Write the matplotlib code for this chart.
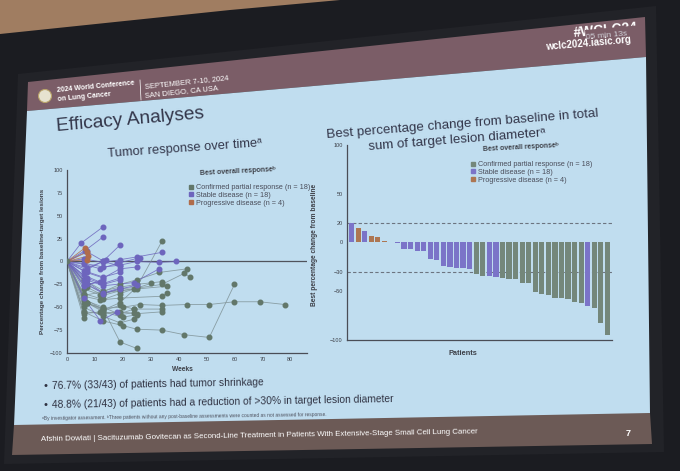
import matplotlib
matplotlib.use("Agg")
import matplotlib.pyplot as plt
from matplotlib.patches import Polygon, Circle
from matplotlib.lines import Line2D
from matplotlib import font_manager

_names = {f.name for f in font_manager.fontManager.ttflist}
SANS = "Liberation Sans" if "Liberation Sans" in _names else "DejaVu Sans"
NARROW = "Liberation Sans Narrow" if "Liberation Sans Narrow" in _names else SANS
plt.rcParams["font.family"] = [SANS, "DejaVu Sans"]

# ---------------- data ----------------
resp_labels = ["Confirmed partial response (n = 18)", "Stable disease (n = 18)",
               "Progressive disease (n = 4)"]
resp_keys = ["PR", "SD", "PD"]
resp_colors = {"PR": "#62776a", "SD": "#6d65bd", "PD": "#b06c4b"}
bar_colors = {"PR": "#74877b", "SD": "#7b74c8", "PD": "#ad7652"}

# waterfall: best % change per patient (sorted)
wf_values = [20, 15, 12, 7, 5.6, 1.6, 0.5, -1, -6.3, -6.7, -8.3, -8.7, -17, -18,
             -24, -25, -26, -26.5, -27, -32, -34, -34.5, -35, -36.5, -37, -37,
             -41.5, -42, -51, -53, -53.5, -57, -57, -58, -61, -62, -65, -67, -83, -95]
wf_response = ["SD", "PD", "SD", "PD", "PD", "PD", "SD",
               "SD", "SD", "SD", "SD", "SD", "SD", "SD", "SD", "SD", "SD", "SD", "SD",
               "PR", "PR", "SD", "SD",
               "PR", "PR", "PR", "PR", "PR", "PR", "PR", "PR", "PR", "PR", "PR", "PR", "PR",
               "SD", "PR", "PR", "PR"]
wf_yticks = [100, 50, 20, 0, -30, -50, -100]

# spider: weeks and % change per patient
sp_weeks = [
    [0, 6.5], [0, 7], [0, 7.5], [0, 7],
    [0, 5, 13], [0, 6.5, 13], [0, 7, 13, 19], [0, 6, 13, 19, 25, 34],
    [0, 6, 13, 19, 25, 33, 39], [0, 7, 13, 19], [0, 6, 12, 18, 26], [0, 7, 14],
    [0, 6, 13, 19], [0, 7, 13, 19, 25], [0, 6, 13, 19], [0, 7, 13, 19],
    [0, 6, 12], [0, 7, 13, 24, 33], [0, 6, 13], [0, 6, 13, 19],
    [0, 7, 13, 19, 25], [0, 6, 12, 18],
    [0, 6, 13, 19, 25, 34], [0, 7, 13, 25, 36], [0, 6, 12, 19, 25],
    [0, 6, 13, 19, 25, 33, 43], [0, 7, 13, 19, 34, 42, 44], [0, 6, 13, 19, 24, 30],
    [0, 6, 12, 19, 34, 36], [0, 6, 13, 20, 26, 34, 43, 51, 60, 69, 78],
    [0, 6, 13, 19, 25, 34], [0, 7, 13, 19, 24, 34], [0, 6, 13, 19, 25, 34],
    [0, 6, 12, 19, 24], [0, 6, 13, 19, 24], [0, 7, 13, 20, 25], [0, 6],
    [0, 6, 13, 19, 24], [0, 6, 13, 20, 25, 34, 42, 51, 60], [0, 7, 13, 19, 25],
]
sp_values = [
    [0, 15], [0, 10], [0, 6], [0, 2],
    [0, 20, 38], [0, 12, 27], [0, 11, 0.5, 18], [0, 3, -1, 2, 5, 10],
    [0, -2, -6, -4, 0, -1, 0], [0, -7, 0, -5], [0, -3, -8, -2, 4], [0, -9, 2],
    [0, -10, -17, -12], [0, -12, -18, -8, -6], [0, -15, -24, -18], [0, -18, -25, -20],
    [0, -26, -22], [0, -20, -26.5, -23, -8], [0, -27, -20], [0, -20, -34.5, -29],
    [0, -25, -35, -30, -26], [0, -40, -65, -55],
    [0, -20, -32, -28, -25, -22], [0, -25, -34, -30, -27], [0, -30, -36.5, -30, -28],
    [0, -37, -33, -25, -20, -12, -8], [0, -28, -37, -32, -25, -13, -17],
    [0, -35, -41.5, -35, -30, -24],
    [0, -38, -42, -40, -38, -34], [0, -45, -51, -50, -47, -48, -47, -47, -44, -44, -47],
    [0, -40, -53, -45, -28, 22], [0, -45, -53.5, -48, -52, -52], [0, -55, -57, -55, -57, -55],
    [0, -57, -55, -57, -52], [0, -42, -50, -58, -56], [0, -45, -55, -61, -58], [0, -62],
    [0, -50, -60, -67, -63], [0, -55, -65, -70, -74, -75, -80, -83, -25],
    [0, -45, -52, -88, -95],
]
sp_response = ["PD"] * 4 + ["SD"] * 18 + ["PR"] * 18
sp_xticks = [0, 10, 20, 30, 40, 50, 60, 70, 80]
sp_yticks = [100, 75, 50, 25, 0, -25, -50, -75, -100]

# ---------------- figure / photo background ----------------
W, H = 680, 471
fig = plt.figure(figsize=(6.8, 4.71), dpi=100)
fig.patch.set_facecolor("#1b1c21")
bg = fig.add_axes([0, 0, 1, 1], zorder=0)
bg.set_xlim(0, W)
bg.set_ylim(H, 0)
bg.axis("off")

HEADER = "#7b5d67"


def poly(pts, color, **kw):
    p = Polygon(pts, closed=True, facecolor=color, edgecolor="none", **kw)
    bg.add_patch(p)
    return p


poly([(0, 0), (340, 0), (230, 10), (0, 34)], "#a07d61")
poly([(18, 74), (656, 6), (664, 452), (4, 464)], "#222328")
header = poly([(28, 82), (645, 17), (646, 57), (27, 111)], HEADER)
poly([(27, 111), (646, 57), (650, 414), (14, 426)], "#c0ddef")
poly([(14, 425), (650, 413), (652, 444), (12, 455)], "#6c5a56")

# header
bg.add_patch(Circle((45, 96), 6.5, facecolor="#e6e2cf", edgecolor="#b9a46a", lw=0.8))
bg.text(57, 92, "2024 World Conference", color="white", fontsize=5, fontweight="bold",
        rotation=5.5, rotation_mode="anchor", ha="left", va="baseline")
bg.text(58, 101, "on Lung Cancer", color="white", fontsize=5, fontweight="bold",
        rotation=5.5, rotation_mode="anchor", ha="left", va="baseline")
bg.plot([140, 141], [80, 100], color="white", lw=0.5)
bg.text(145, 88, "SEPTEMBER 7-10, 2024", color="white", fontsize=5.4,
        rotation=6, rotation_mode="anchor", ha="left", va="baseline")
bg.text(145, 97, "SAN DIEGO, CA USA", color="white", fontsize=5.4,
        rotation=6, rotation_mode="anchor", ha="left", va="baseline")
t = bg.text(574, 37, "#WCLC24", color="white", fontsize=10, fontweight="bold",
            rotation=5, rotation_mode="anchor", ha="left", va="baseline", zorder=3)
t.set_clip_path(header)
poly([(585, 30), (642, 25), (643, 37), (586, 42)], HEADER, zorder=3.5)
bg.text(586, 39, "05 min 13s", color="#cfcfd6", fontsize=6, zorder=4,
        rotation=5, rotation_mode="anchor", ha="left", va="baseline")
bg.text(546, 50, "wclc2024.iasic.org", color="white", fontsize=7, fontweight="bold",
        rotation=5, rotation_mode="anchor", ha="left", va="baseline", zorder=4)

# slide titles
TXT = "#33364a"
bg.text(57, 131, "Efficacy Analyses", color=TXT, fontsize=13.8,
        rotation=5, rotation_mode="anchor", ha="left", va="baseline")
bg.text(108, 157, "Tumor response over timeᵃ", color=TXT, fontsize=9.3,
        rotation=4, rotation_mode="anchor", ha="left", va="baseline")
bg.text(327, 138, "Best percentage change from baseline in total", color=TXT, fontsize=9.6,
        rotation=4.5, rotation_mode="anchor", ha="left", va="baseline")
bg.text(369, 150, "sum of target lesion diameterᵃ", color=TXT, fontsize=9.6,
        rotation=4.5, rotation_mode="anchor", ha="left", va="baseline")

# bullets + footnote
BUL = "#2f3242"
BFS = 8.5 if NARROW != SANS else 7.4
bg.text(44, 389, "•", color=BUL, fontsize=8, ha="left", va="baseline")
bg.text(52, 389, "76.7% (33/43) of patients had tumor shrinkage", color=BUL,
        family=[NARROW, "DejaVu Sans"], fontsize=BFS,
        rotation=1, rotation_mode="anchor", ha="left", va="baseline")
bg.text(44, 408, "•", color=BUL, fontsize=8, ha="left", va="baseline")
bg.text(52, 408, "48.8% (21/43) of patients had a reduction of >30% in target lesion diameter",
        color=BUL, family=[NARROW, "DejaVu Sans"], fontsize=BFS,
        rotation=1, rotation_mode="anchor", ha="left", va="baseline")
bg.text(42, 420, "ᵃBy investigator assessment. ᵇThree patients without any post-baseline "
        "assessments were counted as not assessed for response.", color="#4c4f5c",
        family=[NARROW, "DejaVu Sans"], fontsize=3.8 if NARROW != SANS else 3.5,
        rotation=0.8, rotation_mode="anchor", ha="left", va="baseline")

# footer
bg.text(41, 441, "Afshin Dowlati | Sacituzumab Govitecan as Second-Line Treatment in Patients "
        "With Extensive-Stage Small Cell Lung Cancer", color="white",
        family=[NARROW, "DejaVu Sans"], fontsize=6.6 if NARROW != SANS else 5.7,
        rotation=1, rotation_mode="anchor", ha="left", va="baseline")
bg.text(626, 436, "7", color="white", fontsize=6.5, fontweight="bold",
        ha="left", va="baseline")

AX = "#4a4d56"
LAB = "#3d4048"

# ---------------- spider plot ----------------
ax1 = fig.add_axes([67 / W, 1 - 353 / H, 240 / W, 183 / H], zorder=2)
ax1.set_facecolor("none")
ax1.axhline(0, color="#50535c", lw=0.9, zorder=1)
order = [i for i, r in enumerate(sp_response) if r == "PR"] + \
        [i for i, r in enumerate(sp_response) if r == "SD"] + \
        [i for i, r in enumerate(sp_response) if r == "PD"]
for i in order:
    c = resp_colors[sp_response[i]]
    ax1.plot(sp_weeks[i], sp_values[i], color="#7f9296" if sp_response[i] == "PR" else c,
             lw=0.6, alpha=0.85, zorder=2)
    ax1.plot(sp_weeks[i][1:], sp_values[i][1:], "o", color=c, ms=3.3, mec=c, zorder=3)
ax1.plot([0], [0], "o", color=resp_colors["PR"], ms=3.3, zorder=3)
ax1.set_xlim(0, 86)
ax1.set_ylim(-100, 100)
ax1.set_xticks(sp_xticks)
ax1.set_yticks(sp_yticks)
for s in ["top", "right"]:
    ax1.spines[s].set_visible(False)
for s in ["left", "bottom"]:
    ax1.spines[s].set_color(AX)
    ax1.spines[s].set_linewidth(0.9)
ax1.tick_params(length=0, labelsize=4, labelcolor=LAB, pad=3)
ax1.set_xlabel("Weeks", fontsize=4.8, fontweight="bold", color=LAB)
ax1.xaxis.set_label_coords(0.479, -0.072)
ax1.set_ylabel("Percentage change from baseline-target lesions", fontsize=4.6,
               fontweight="bold", color=LAB)
ax1.yaxis.set_label_coords(-0.092, 0.5)
bg.text(200, 175, "Best overall responseᵇ", color=LAB, fontsize=5, fontweight="bold",
        rotation=3, rotation_mode="anchor", ha="left", va="baseline")
h1 = [Line2D([], [], marker="s", ls="none", color=resp_colors[k], ms=3.2) for k in resp_keys]
lg1 = ax1.legend(h1, resp_labels, loc="upper left",
                 bbox_to_anchor=((189 - 67) / 240, (353 - 184) / 183), frameon=False,
                 fontsize=5.2, handlelength=0.5, handletextpad=0.5,
                 labelspacing=0.12, borderaxespad=0, borderpad=0)
for tx in lg1.get_texts():
    tx.set_color("#4a4d5a")

# ---------------- waterfall ----------------
ax2 = fig.add_axes([347 / W, 1 - 340 / H, 265 / W, 195 / H], zorder=2)
ax2.set_facecolor("none")
xs = list(range(len(wf_values)))
ax2.bar(xs, wf_values, width=0.8, color=[bar_colors[r] for r in wf_response],
        edgecolor="none", zorder=2)
ax2.axhline(20, color="#6c7480", lw=0.8, ls=(0, (3, 2)), zorder=1)
ax2.axhline(-30, color="#6c7480", lw=0.8, ls=(0, (3, 2)), zorder=1)
ax2.set_xlim(-0.7, len(wf_values) - 0.3)
ax2.set_ylim(-100, 100)
ax2.set_xticks([])
ax2.set_yticks(wf_yticks)
for s in ["top", "right"]:
    ax2.spines[s].set_visible(False)
for s in ["left", "bottom"]:
    ax2.spines[s].set_color(AX)
    ax2.spines[s].set_linewidth(0.9)
ax2.tick_params(length=0, labelsize=4, labelcolor=LAB, pad=3)
ax2.set_xlabel("Patients", fontsize=5.3, fontweight="bold", color=LAB)
ax2.xaxis.set_label_coords(0.438, -0.05)
ax2.set_ylabel("Best percentage change from baseline", fontsize=4.8,
               fontweight="bold", color=LAB)
ax2.yaxis.set_label_coords(-0.11, 0.49)
bg.text(483, 151, "Best overall responseᵇ", color=LAB, fontsize=5, fontweight="bold",
        rotation=3, rotation_mode="anchor", ha="left", va="baseline")
h2 = [Line2D([], [], marker="s", ls="none", color=bar_colors[k], ms=3.2) for k in resp_keys]
lg2 = ax2.legend(h2, resp_labels, loc="upper left",
                 bbox_to_anchor=((471 - 347) / 265, (340 - 161) / 195), frameon=False,
                 fontsize=5.2, handlelength=0.5, handletextpad=0.5,
                 labelspacing=0.12, borderaxespad=0, borderpad=0)
for tx in lg2.get_texts():
    tx.set_color("#4a4d5a")

fig.savefig("out.png", dpi=100, facecolor=fig.get_facecolor())
